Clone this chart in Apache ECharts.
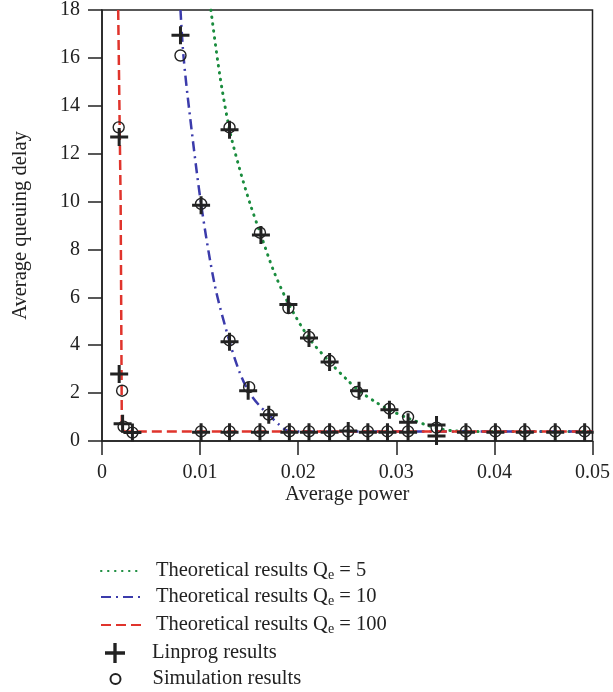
<!DOCTYPE html>
<html><head><meta charset="utf-8">
<script src="https://cdn.jsdelivr.net/npm/echarts@6/dist/echarts.min.js"></script>
<style>html,body{margin:0;padding:0;background:#fff}#c{width:613px;height:692px}</style>
</head><body><div id="c"></div>
<script>
// Axis ticks
const xMin = 0, xMax = 0.05, xStep = 0.01;
const yMin = 0, yMax = 18, yStep = 2;

// Theoretical curves
const powerQ5 = [0.0111, 0.0120, 0.0130, 0.0140, 0.0151, 0.0162, 0.0175, 0.0190, 0.0211, 0.0232, 0.0250, 0.0262, 0.0280, 0.0293, 0.0312, 0.0330, 0.0345, 0.0360, 0.0380, 0.0500];
const delayQ5 = [18, 15.3, 13.0, 11.4, 9.9, 8.6, 7.1, 5.75, 4.3, 3.3, 2.55, 2.1, 1.6, 1.3, 0.95, 0.68, 0.5, 0.42, 0.4, 0.4];

const powerQ10 = [0.0080, 0.0083, 0.0089, 0.0101, 0.0115, 0.0130, 0.0140, 0.0149, 0.0160, 0.0170, 0.0180, 0.0190, 0.0200, 0.0500];
const delayQ10 = [18, 16.1, 13.8, 9.9, 6.5, 4.15, 2.9, 2.1, 1.5, 1.1, 0.7, 0.42, 0.4, 0.4];

const powerQ100 = [0.00165, 0.0019, 0.00202, 0.0022, 0.0500];
const delayQ100 = [18, 10, 0.6, 0.4, 0.4];

// Linprog results
const linX = [0.00175, 0.00175, 0.0021, 0.0031, 0.0080, 0.0101, 0.0130, 0.0149, 0.0170,
  0.0130, 0.0162, 0.0190, 0.0211, 0.0232, 0.0262, 0.0293, 0.0312, 0.0341,
  0.0101, 0.0130, 0.0161, 0.0191, 0.0211, 0.0232, 0.0251, 0.0271, 0.0291, 0.0312, 0.0341, 0.0371, 0.0401, 0.0431, 0.0462, 0.0492];
const linY = [12.7, 2.8, 0.72, 0.35, 16.95, 9.85, 4.15, 2.1, 1.1,
  13.0, 8.6, 5.7, 4.3, 3.3, 2.1, 1.3, 0.78, 0.67,
  0.37, 0.37, 0.37, 0.37, 0.37, 0.37, 0.42, 0.37, 0.37, 0.37, 0.21, 0.37, 0.37, 0.37, 0.37, 0.37];

// Simulation results
const simX = [0.0017, 0.00205, 0.0022, 0.0031, 0.0080, 0.0101, 0.0130, 0.0150, 0.0170,
  0.0130, 0.0161, 0.0190, 0.0211, 0.0232, 0.0260, 0.0293, 0.0312, 0.0341,
  0.0101, 0.0130, 0.0161, 0.0191, 0.0211, 0.0232, 0.0251, 0.0271, 0.0291, 0.0312, 0.0371, 0.0401, 0.0431, 0.0462, 0.0492];
const simY = [13.1, 2.1, 0.6, 0.35, 16.1, 9.9, 4.2, 2.25, 1.1,
  13.1, 8.7, 5.55, 4.35, 3.35, 2.05, 1.35, 1.0, 0.56,
  0.4, 0.4, 0.4, 0.4, 0.4, 0.4, 0.4, 0.4, 0.4, 0.4, 0.4, 0.4, 0.4, 0.4, 0.4];

const names = ['Theoretical results Qe = 5', 'Theoretical results Qe = 10', 'Theoretical results Qe = 100', 'Linprog results', 'Simulation results'];

const zip = (a, b) => a.map((v, i) => [v, b[i]]);
const FONT = '"Liberation Serif", "DejaVu Serif", serif';
const INK = '#222';
const PLUS = 'path://M7.5,0 H10.5 V7.5 H18 V10.5 H10.5 V18 H7.5 V10.5 H0 V7.5 H7.5 Z';

const chart = echarts.init(document.getElementById('c'), null, {renderer: 'canvas'});

const legendText = {
  fontFamily: FONT, fontSize: 20.5, color: INK, lineHeight: 22,
  rich: {
    sub: {fontFamily: FONT, fontSize: 14, color: INK, verticalAlign: 'bottom', lineHeight: 13},
    p10: {width: 10}, p22: {width: 22}, p27: {width: 27}
  }
};
function fmt(n) {
  if (n.indexOf('Qe') >= 0) {
    const parts = n.split('Qe');
    return '{p10|}' + parts[0] + 'Q{sub|e}' + parts[1];
  }
  if (n === 'Linprog results') return '{p22|}' + n;
  return '{p27|}' + n;
}
const rowTops = [560, 586, 614, 642, 668];
const legends = names.map((n, i) => {
  const isLine = i < 3;
  const lg = {
    data: [n], orient: 'vertical',
    left: isLine ? 100 : (i === 3 ? 105 : 109.5),
    top: rowTops[i],
    itemWidth: isLine ? 40 : (i === 3 ? 20 : 10),
    itemHeight: isLine ? 14 : (i === 3 ? 20 : 10),
    itemGap: 0, padding: 0,
    formatter: fmt,
    textStyle: legendText,
    selectedMode: false
  };
  if (isLine) lg.itemStyle = {opacity: 0};
  return lg;
});

const option = {
  animation: false,
  backgroundColor: '#fff',
  grid: {left: 102, top: 10, width: 494, height: 431, show: true, borderColor: INK, borderWidth: 1.5, backgroundColor: 'transparent'},
  legend: legends,
  xAxis: {
    type: 'value', min: xMin, max: xMax, interval: xStep,
    axisLine: {show: true, onZero: false, lineStyle: {color: INK, width: 1.5}},
    axisTick: {show: true, length: 14, lineStyle: {color: INK, width: 1.5}},
    splitLine: {show: false},
    axisLabel: {fontFamily: FONT, fontSize: 20, color: INK, margin: 22, formatter: v => v === 0 ? '0' : v.toFixed(2)},
    name: 'Average power', nameLocation: 'middle', nameGap: 43, nameMoveOverlap: false,
    nameTextStyle: {fontFamily: FONT, fontSize: 20.5, color: INK}
  },
  yAxis: {
    type: 'value', min: yMin, max: yMax, interval: yStep,
    axisLine: {show: true, onZero: false, lineStyle: {color: INK, width: 1.5}},
    axisTick: {show: true, length: 14, lineStyle: {color: INK, width: 1.5}},
    splitLine: {show: false},
    axisLabel: {fontFamily: FONT, fontSize: 20, color: INK, margin: 22},
    name: 'Average queuing delay', nameLocation: 'middle', nameGap: 71, nameMoveOverlap: false,
    nameTextStyle: {fontFamily: FONT, fontSize: 20.5, color: INK}
  },
  series: [
    {name: names[0], type: 'line', data: zip(powerQ5, delayQ5), symbol: 'none', smooth: 0.3, clip: true,
      color: '#1a8c3e', lineStyle: {color: '#1a8c3e', width: 3, type: [0.5, 6.5], cap: 'round'}, z: 2},
    {name: names[1], type: 'line', data: zip(powerQ10, delayQ10), symbol: 'none', smooth: 0.3, clip: true,
      color: '#3b3bab', lineStyle: {color: '#3b3bab', width: 2.5, type: [10, 5, 2, 5]}, z: 2},
    {name: names[2], type: 'line', data: zip(powerQ100, delayQ100), symbol: 'none', clip: true,
      color: '#e0342c', lineStyle: {color: '#e0342c', width: 2.5, type: [10, 5]}, z: 2},
    {name: names[3], type: 'scatter', data: zip(linX, linY), symbol: PLUS, symbolSize: 18,
      itemStyle: {color: INK, opacity: 1}, z: 4},
    {name: names[4], type: 'scatter', data: zip(simX, simY), symbol: 'circle', symbolSize: 11,
      itemStyle: {color: 'rgba(0,0,0,0)', borderColor: INK, borderWidth: 1.4, opacity: 1}, z: 3}
  ]
};
chart.setOption(option);
</script>
</body></html>
